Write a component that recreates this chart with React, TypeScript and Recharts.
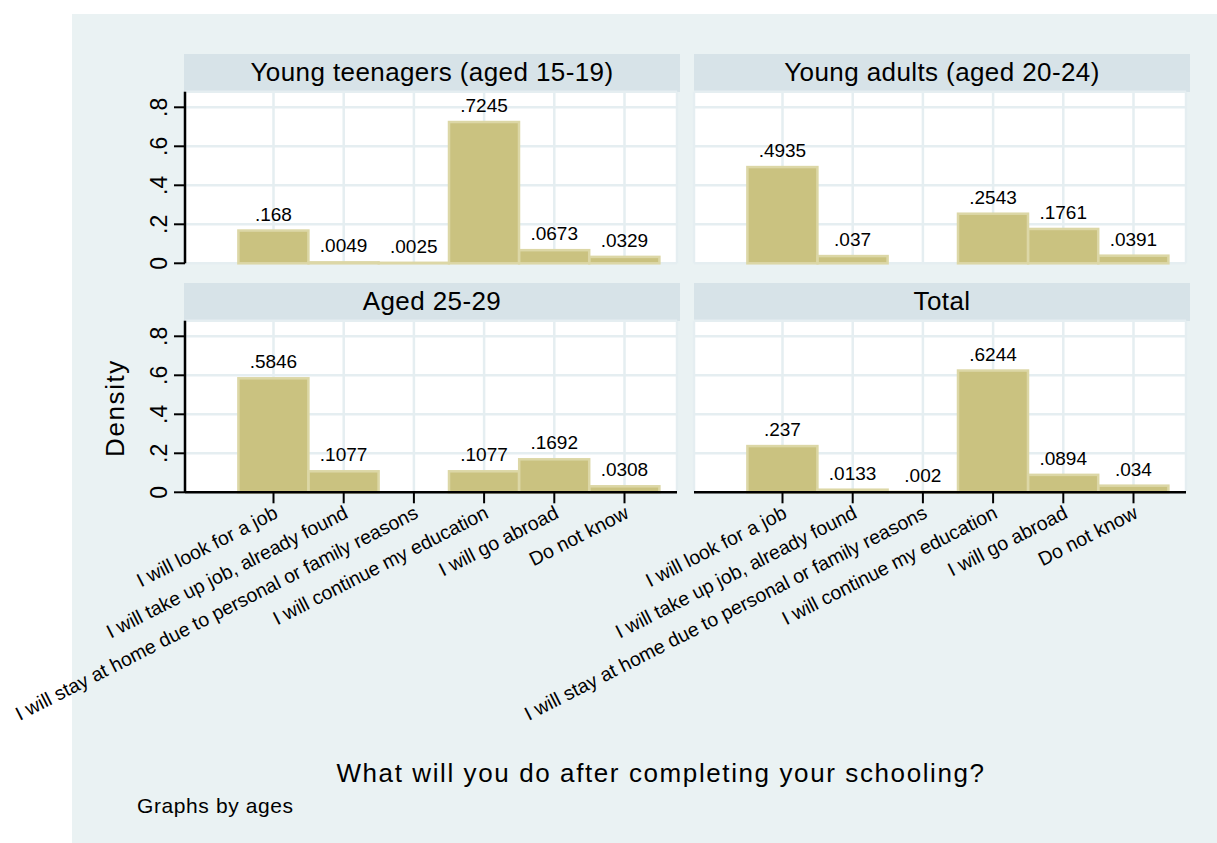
import React from 'react';
import { BarChart, Bar, XAxis, YAxis, CartesianGrid, LabelList } from 'recharts';

const categories = [
  'I will look for a job',
  'I will take up job, already found',
  'I will stay at home due to personal or family reasons',
  'I will continue my education',
  'I will go abroad',
  'Do not know',
];
const teenagers = [0.168, 0.0049, 0.0025, 0.7245, 0.0673, 0.0329];
const youngAdults = [0.4935, 0.037, null, 0.2543, 0.1761, 0.0391];
const aged2529 = [0.5846, 0.1077, null, 0.1077, 0.1692, 0.0308];
const total = [0.237, 0.0133, 0.002, 0.6244, 0.0894, 0.034];
const yTicks = [0, 0.2, 0.4, 0.6, 0.8];
const panelTitles = ['Young teenagers (aged 15-19)', 'Young adults (aged 20-24)', 'Aged 25-29', 'Total'];
const xTitle = 'What will you do after completing your schooling?';
const yTitle = 'Density';
const note = 'Graphs by ages';

const FONT = '"Liberation Sans", Arial, Helvetica, sans-serif';
const PAGE_W = 1217;
const PAGE_H = 843;
const PLOT_W = 492;
const PLOT_H = 171.6;
const COL_X = [185, 694];
const ROW_Y = [91.7, 320.7];
const HEADER_X = [184, 694];
const HEADER_W = 496;
const HEADER_H = 37.7;
const Y_AXIS_W = 60;
const X_AXIS_H = 60;
const BG = '#EAF2F3';
const HEADER_BG = '#D7E3E8';
const GRID = '#E5EEF1';
const BAR_FILL = '#CAC280';
const BAR_STROKE = '#DCD7A6';
const LABEL_ANGLE = -27;

const fmt = (v: any) => {
  if (v === null || v === undefined) return '';
  if (v === 0) return '0';
  return String(v).replace(/^0/, '');
};

const XTick = (props: any) => {
  const { x, y, payload } = props;
  return (
    <g transform={`translate(${x - 1},${y}) rotate(${LABEL_ANGLE})`}>
      <text x={0} y={0} dy="0.74em" textAnchor="end" fontSize={19.5} fontFamily={FONT} fill="#000">
        {payload.value}
      </text>
    </g>
  );
};

const YTick = (props: any) => {
  const { x, y, payload } = props;
  return (
    <g transform={`translate(${x - 7},${y}) rotate(-90)`}>
      <text x={0} y={0} textAnchor="middle" fontSize={23} fontFamily={FONT} fill="#000">
        {fmt(payload.value)}
      </text>
    </g>
  );
};

const BarShape = (props: any) => {
  const { x, y, width, height, payload } = props;
  if (!payload || payload.v === null || payload.v === undefined) return <g />;
  return (
    <rect x={x} y={y} width={width} height={Math.max(height, 0)} fill={BAR_FILL} stroke={BAR_STROKE} strokeWidth={2.5} />
  );
};

type PanelProps = { values: (number | null)[]; col: number; row: number };

const Panel = ({ values, col, row }: PanelProps) => {
  const data = categories.map((name, i) => ({ name, v: values[i] }));
  const showY = col === 0;
  const showX = row === 1;
  const left = COL_X[col];
  const top = ROW_Y[row];
  const yW = showY ? Y_AXIS_W : 0;
  const xH = showX ? X_AXIS_H : 0;
  const margin = {
    left: left - yW,
    top,
    right: PAGE_W - left - PLOT_W,
    bottom: PAGE_H - top - PLOT_H - xH,
  };
  return (
    <div style={{ position: 'absolute', left: 0, top: 0 }}>
      <BarChart width={PAGE_W} height={PAGE_H} data={data} margin={margin} barCategoryGap={0} barGap={0}>
        <CartesianGrid fill="#FFFFFF" fillOpacity={1} stroke={GRID} strokeWidth={2.5} />
        <XAxis
          dataKey="name"
          type="category"
          hide={!showX}
          height={xH}
          padding={{ left: 53.4, right: 17.4 }}
          interval={0}
          tick={<XTick />}
          tickSize={11}
          tickMargin={1}
          axisLine={{ stroke: '#000', strokeWidth: 2.5 }}
          tickLine={{ stroke: '#000', strokeWidth: 2 }}
        />
        <YAxis
          type="number"
          domain={[0, 0.88]}
          ticks={yTicks}
          interval={0}
          hide={!showY}
          width={yW}
          tick={<YTick />}
          tickSize={11}
          tickMargin={0}
          axisLine={{ stroke: '#000', strokeWidth: 2.5 }}
          tickLine={{ stroke: '#000', strokeWidth: 2 }}
        />
        <Bar dataKey="v" isAnimationActive={false} shape={BarShape}>
          <LabelList dataKey="v" position="top" offset={10} formatter={fmt} fontSize={19} fontFamily={FONT} fill="#000" />
        </Bar>
      </BarChart>
    </div>
  );
};

const panels = [
  { values: teenagers, col: 0, row: 0, title: panelTitles[0] },
  { values: youngAdults, col: 1, row: 0, title: panelTitles[1] },
  { values: aged2529, col: 0, row: 1, title: panelTitles[2] },
  { values: total, col: 1, row: 1, title: panelTitles[3] },
];

export default function App() {
  return (
    <div style={{ position: 'absolute', left: 0, top: 0, width: PAGE_W, height: PAGE_H, background: '#FFFFFF', overflow: 'hidden', fontFamily: FONT }}>
      <div style={{ position: 'absolute', left: 72, top: 14, width: PAGE_W - 72, height: PAGE_H - 14, background: BG }} />
      {panels.map((p) => (
        <div
          key={p.title}
          style={{
            position: 'absolute',
            left: HEADER_X[p.col],
            top: ROW_Y[p.row] - HEADER_H,
            width: HEADER_W,
            height: HEADER_H,
            background: HEADER_BG,
            textAlign: 'center',
            lineHeight: `${HEADER_H}px`,
            fontSize: 26,
            letterSpacing: 0.4,
            color: '#000',
          }}
        >
          {p.title}
        </div>
      ))}
      {panels.map((p) => (
        <Panel key={'c' + p.title} values={p.values} col={p.col} row={p.row} />
      ))}
      <div
        style={{
          position: 'absolute',
          left: 115 - 90,
          top: 408 - 17,
          width: 180,
          height: 34,
          lineHeight: '34px',
          textAlign: 'center',
          fontSize: 26,
          letterSpacing: 1.6,
          transform: 'rotate(-90deg)',
          color: '#000',
        }}
      >
        {yTitle}
      </div>
      <div
        style={{
          position: 'absolute',
          left: 661 - 450,
          top: 773 - 17,
          width: 900,
          height: 34,
          lineHeight: '34px',
          textAlign: 'center',
          fontSize: 26,
          letterSpacing: 1.6,
          color: '#000',
        }}
      >
        {xTitle}
      </div>
      <div style={{ position: 'absolute', left: 137, top: 806 - 13, height: 26, lineHeight: '26px', fontSize: 21, letterSpacing: 0.6, color: '#000' }}>
        {note}
      </div>
    </div>
  );
}
